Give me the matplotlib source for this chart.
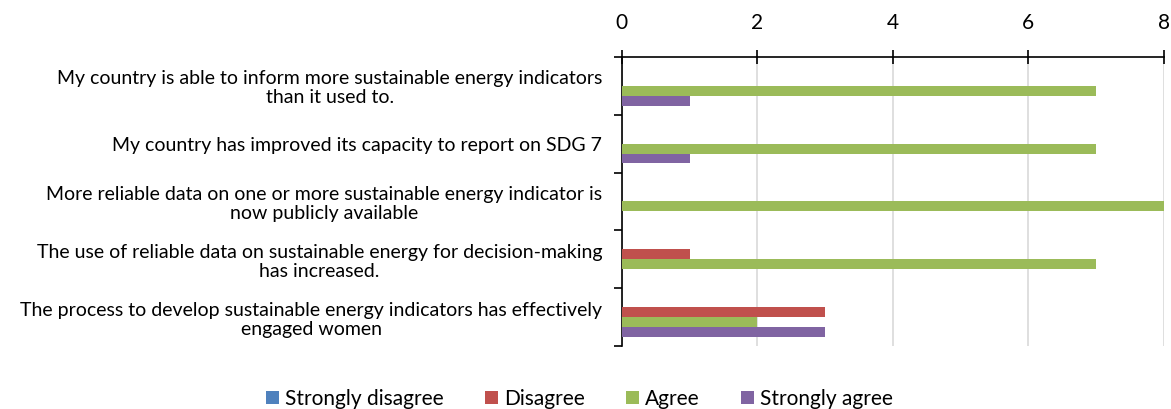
import numpy as np
import matplotlib.pyplot as plt
from matplotlib.patches import Patch

plt.rcParams['font.family'] = ['Lato', 'DejaVu Sans']

# otázky (shora dolů)
otazky = [
    "My country is able to inform more sustainable energy indicators\nthan it used to.",
    "My country has improved its capacity to report on SDG 7",
    "More reliable data on one or more sustainable energy indicator is\nnow publicly available",
    "The use of reliable data on sustainable energy for decision-making\nhas increased.",
    "The process to develop sustainable energy indicators has effectively\nengaged women",
]
serie = ["Strongly disagree", "Disagree", "Agree", "Strongly agree"]
strongly_disagree = [0, 0, 0, 0, 0]
disagree = [0, 0, 0, 1, 3]
agree = [7, 7, 8, 7, 2]
strongly_agree = [1, 1, 0, 0, 3]
barvy = ["#4F81BD", "#C0504D", "#9BBB59", "#8064A2"]

data = [strongly_disagree, disagree, agree, strongly_agree]

fig = plt.figure(figsize=(11.71, 4.09), dpi=100)
ax = fig.add_axes([0.531, 0.154, 0.463, 0.707])

y = np.arange(len(otazky))
h = 0.172
for i, (vals, c) in enumerate(zip(data, barvy)):
    ax.barh(y + (i - 1.5) * h, vals, height=h, color=c,
            edgecolor='white', linewidth=0.0, zorder=3)

ax.set_xlim(0, 8)
ax.set_ylim(len(otazky) - 0.5, -0.5)
ax.xaxis.tick_top()
ax.set_xticks([0, 2, 4, 6, 8])
ax.tick_params(axis='x', direction='inout', length=10, width=1.2,
               labelsize=15, pad=12)
ax.grid(axis='x', color='#D9D9D9', linewidth=1.2, zorder=0)

# popisky kategorií bez čárek, čárky na hranicích
ax.set_yticks(y)
ax.set_yticklabels(otazky, fontsize=14, ha='right', multialignment='center',
                   linespacing=1.15)
ax.tick_params(axis='y', length=0, pad=14)
ax.set_yticks(np.arange(-0.5, len(otazky)), minor=True)
ax.tick_params(axis='y', which='minor', direction='out', length=6, width=1.2)

for s in ['right', 'bottom']:
    ax.spines[s].set_visible(False)
ax.spines['top'].set_linewidth(1.2)
ax.spines['left'].set_linewidth(1.2)

handles = [Patch(facecolor=c, label=s) for c, s in zip(barvy, serie)]
fig.legend(handles=handles, loc='lower center', ncol=4, frameon=False,
           fontsize=15, bbox_to_anchor=(0.495, -0.045), handlelength=0.6,
           handleheight=0.6, handletextpad=0.3, columnspacing=2.0)

plt.savefig('out.png', dpi=100)
